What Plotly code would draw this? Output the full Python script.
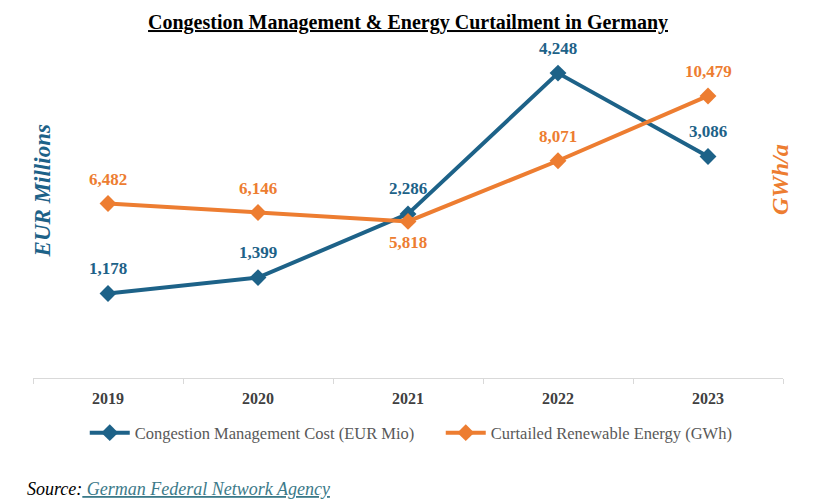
import plotly.graph_objects as go

# data
years = ["2019", "2020", "2021", "2022", "2023"]
congestion_cost = [1178, 1399, 2286, 4248, 3086]      # EUR Mio
curtailed_energy = [6482, 6146, 5818, 8071, 10479]    # GWh

BLUE = "#1D6288"
ORANGE = "#ED7D31"
LINK = "#3C7A89"
SERIF = "Liberation Serif, Times New Roman, serif"

fig = go.Figure()

fig.add_trace(go.Scatter(
    x=years, y=congestion_cost, name="Congestion Management Cost (EUR Mio)",
    mode="lines+markers", yaxis="y",
    line=dict(color=BLUE, width=4),
    marker=dict(symbol="diamond", size=13, color=BLUE),
))
fig.add_trace(go.Scatter(
    x=years, y=curtailed_energy, name="Curtailed Renewable Energy (GWh)",
    mode="lines+markers", yaxis="y2",
    line=dict(color=ORANGE, width=4),
    marker=dict(symbol="diamond", size=13, color=ORANGE),
))

# value labels (category axis -> annotation x is the category index)
for i, v in enumerate(congestion_cost):
    fig.add_annotation(x=i, y=v, xref="x", yref="y", text=f"<b>{v:,}</b>", showarrow=False,
                       yshift=25, font=dict(family=SERIF, size=17, color=BLUE))
for i, v in enumerate(curtailed_energy):
    shift = -21 if v == 5818 else 24
    fig.add_annotation(x=i, y=v, xref="x", yref="y2", text=f"<b>{v:,}</b>", showarrow=False,
                       yshift=shift, font=dict(family=SERIF, size=17, color=ORANGE))

# axis titles
fig.add_annotation(xref="paper", yref="paper", x=0.013, y=0.58, xanchor="center", yanchor="middle",
                   text="<b><i>EUR Millions</i></b>", textangle=-90, showarrow=False,
                   font=dict(family=SERIF, size=23, color=BLUE))
fig.add_annotation(xref="paper", yref="paper", x=0.996, y=0.613, xanchor="center", yanchor="middle",
                   text="<b><i>GWh/a</i></b>", textangle=-90, showarrow=False,
                   font=dict(family=SERIF, size=24, color=ORANGE))

# source line
fig.add_annotation(xref="paper", yref="paper", x=-0.011, y=-0.345, xanchor="left", yanchor="middle",
                   text=f"<i>Source:</i><span style='color:{LINK}'><i><u> German Federal Network Agency</u></i></span>",
                   showarrow=False, font=dict(family=SERIF, size=18, color="#000000"))

hidden = dict(showgrid=False, zeroline=False, showline=False, showticklabels=False, ticks="")

fig.update_layout(
    width=821, height=501,
    margin=dict(l=33, r=38, t=55, b=123),
    paper_bgcolor="white", plot_bgcolor="white",
    title=dict(text="<u><b>Congestion Management & Energy Curtailment in Germany</b></u>",
               x=0.497, xanchor="center", y=0.956, yanchor="middle",
               font=dict(family=SERIF, size=20, color="#000000")),
    xaxis=dict(type="category", range=[-0.5, 4.5], showgrid=False,
               showline=True, linecolor="#D9D9D9", linewidth=1,
               ticks="outside", tickson="boundaries", ticklen=5, tickcolor="#D9D9D9",
               tickfont=dict(family=SERIF, size=16, color="#404040"),
               ticklabelstandoff=6,
               tickprefix="<b>", ticksuffix="</b>", zeroline=False),
    yaxis=dict(range=[0, 4500], **hidden),
    yaxis2=dict(range=[0, 12000], overlaying="y", side="right", **hidden),
    legend=dict(orientation="h", x=0.069, xanchor="left", y=-0.17, yanchor="middle",
                font=dict(family=SERIF, size=16.5, color="#595959"), itemwidth=40,
                entrywidth=301),
    showlegend=True,
)

fig.write_html("out.html", post_script="document.body.style.margin='0';",
               config={"displayModeBar": False})
